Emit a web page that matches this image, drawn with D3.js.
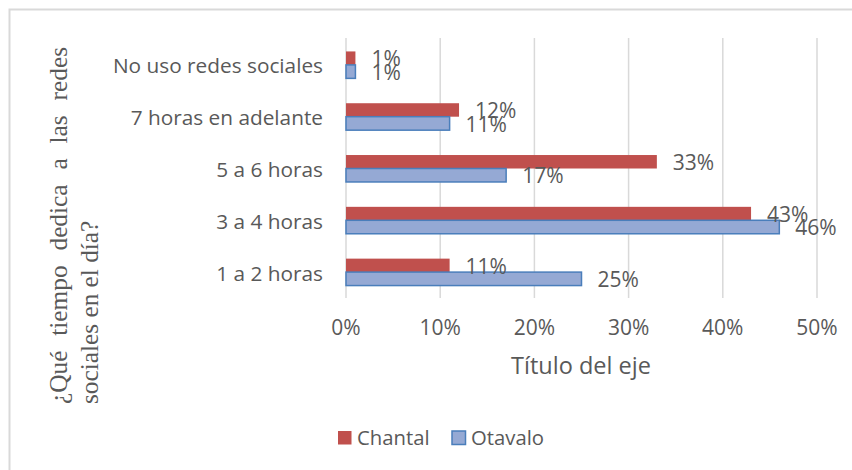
<!DOCTYPE html>
<html>
<head>
<meta charset="utf-8">
<script src="https://cdn.jsdelivr.net/npm/d3@7"></script>
<style>
  body { margin: 0; background: #fff; }
  svg text { font-family: "Open Sans", sans-serif; fill: #595959; }
</style>
</head>
<body>
<div id="chart"></div>
<script>
const categories = ["No uso redes sociales", "7 horas en adelante", "5 a 6 horas", "3 a 4 horas", "1 a 2 horas"];
const chantal = [1, 12, 33, 43, 11];
const otavalo = [1, 11, 17, 46, 25];
const ticks = [0, 10, 20, 30, 40, 50];
const seriesNames = ["Chantal", "Otavalo"];

const redColor = '#C0504D';
const blueFill = '#95A9D4';
const blueStroke = '#4A7EBB';

const W = 852, H = 470;
const svg = d3.select("#chart").append("svg")
    .attr("width", W)
    .attr("height", H);

// chart border
svg.append("rect")
    .attr("x", 9.5).attr("y", 9.5)
    .attr("width", 900).attr("height", 500)
    .attr("fill", "none")
    .attr("stroke", "#d9d9d9")
    .attr("stroke-width", 2);

const x = d3.scaleLinear().domain([0, 50]).range([346, 817]);
const y = d3.scaleBand().domain(categories).range([39, 298])
    .paddingInner(0.48).paddingOuter(0.24);
const bh = y.bandwidth() / 2;

// gridlines
svg.append("g").selectAll("line")
    .data(ticks)
    .enter().append("line")
    .attr("x1", d => x(d)).attr("x2", d => x(d))
    .attr("y1", 38).attr("y2", 298)
    .attr("stroke", "#d9d9d9")
    .attr("stroke-width", 1.5);

// tick labels
svg.append("g").selectAll("text")
    .data(ticks)
    .enter().append("text")
    .attr("x", d => x(d))
    .attr("y", 335)
    .attr("text-anchor", "middle")
    .style("font-size", "21px")
    .text(d => d + "%");

// category labels
svg.append("g").selectAll("text")
    .data(categories)
    .enter().append("text")
    .attr("x", 323)
    .attr("y", d => y(d) + y.bandwidth() / 2 + 8.5)
    .attr("text-anchor", "end")
    .style("font-size", "20.8px")
    .text(d => d);

// Chantal bars
svg.append("g").selectAll("rect")
    .data(chantal)
    .enter().append("rect")
    .attr("x", x(0))
    .attr("y", (d, i) => y(categories[i]))
    .attr("width", d => x(d) - x(0))
    .attr("height", bh)
    .attr("fill", redColor);

// Otavalo bars
svg.append("g").selectAll("rect")
    .data(otavalo)
    .enter().append("rect")
    .attr("x", x(0))
    .attr("y", (d, i) => y(categories[i]) + bh)
    .attr("width", d => x(d) - x(0))
    .attr("height", bh)
    .attr("fill", blueFill)
    .attr("stroke", blueStroke)
    .attr("stroke-width", 1.5);

// data labels
svg.append("g").selectAll("text")
    .data(chantal)
    .enter().append("text")
    .attr("x", d => x(d) + 16)
    .attr("y", (d, i) => y(categories[i]) + bh + 1.5)
    .style("font-size", "21px")
    .text(d => d + "%");

svg.append("g").selectAll("text")
    .data(otavalo)
    .enter().append("text")
    .attr("x", d => x(d) + 16)
    .attr("y", (d, i) => y(categories[i]) + bh * 2 + 1.5)
    .style("font-size", "21px")
    .text(d => d + "%");

// x axis title
svg.append("text")
    .attr("x", 581)
    .attr("y", 374)
    .attr("text-anchor", "middle")
    .style("font-size", "23.5px")
    .text("Título del eje");

// y axis title, first line justified like the original
const yTitle = svg.append("g").attr("transform", "rotate(-90)");
const line1 = yTitle.append("text")
    .attr("x", -404).attr("y", 67)
    .style("font-family", "'Liberation Serif', serif")
    .style("font-size", "25.3px")
    .text("¿Qué tiempo dedica a las redes");
const natural = line1.node().getComputedTextLength();
line1.attr("word-spacing", (357 - natural) / 5);
yTitle.append("text")
    .attr("x", -404).attr("y", 98)
    .style("font-family", "'Liberation Serif', serif")
    .style("font-size", "25.3px")
    .text("sociales en el día?");

// legend
const legend = svg.append("g");
const legendX = [338, 452];
seriesNames.forEach(function(name, i) {
    legend.append("rect")
        .attr("x", legendX[i]).attr("y", 431)
        .attr("width", 13.5).attr("height", 13.5)
        .attr("fill", i == 0 ? redColor : blueFill)
        .attr("stroke", i == 0 ? "none" : blueStroke)
        .attr("stroke-width", 1.5);
    legend.append("text")
        .attr("x", legendX[i] + 19).attr("y", 445)
        .style("font-size", "20.3px")
        .text(name);
});
</script>
</body>
</html>
